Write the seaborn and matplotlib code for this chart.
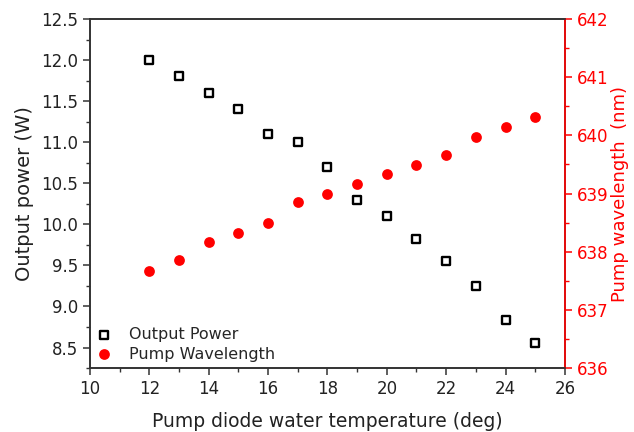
import matplotlib
matplotlib.use("Agg")
import matplotlib.pyplot as plt
import seaborn as sns
import pandas as pd
from matplotlib.ticker import MultipleLocator

sns.set_style("white")
plt.rcParams["font.family"] = ["DejaVu Sans"]

temperature = [12, 13, 14, 15, 16, 17, 18, 19, 20, 21, 22, 23, 24, 25]
output_power = [12.0, 11.8, 11.6, 11.4, 11.1, 11.0, 10.7, 10.3, 10.1, 9.82, 9.55, 9.25, 8.84, 8.55]
pump_wavelength = [637.67, 637.85, 638.17, 638.33, 638.49, 638.85, 639.0, 639.17,
                   639.33, 639.49, 639.66, 639.98, 640.14, 640.32]

df = pd.DataFrame({"temp": temperature, "power": output_power, "wl": pump_wavelength})

red = "#ff0000"
fig = plt.figure(figsize=(6.34, 4.32), dpi=100)
ax = fig.add_axes([0.142, 0.148, 0.749, 0.808])
ax2 = ax.twinx()

sns.scatterplot(data=df, x="temp", y="power", ax=ax, marker="s", s=28,
                facecolor="white", edgecolor="black", linewidth=1.7,
                label="Output Power", zorder=3)
sns.scatterplot(data=df, x="temp", y="wl", ax=ax2, marker="o", s=60,
                color=red, edgecolor=red, linewidth=0, label="Pump Wavelength",
                zorder=3)

ax.set_xlim(10, 26)
ax.set_ylim(8.25, 12.5)
ax2.set_ylim(636, 642)

ax.xaxis.set_major_locator(MultipleLocator(2))
ax.xaxis.set_minor_locator(MultipleLocator(1))
ax.yaxis.set_major_locator(MultipleLocator(0.5))
ax.yaxis.set_minor_locator(MultipleLocator(0.25))
ax2.yaxis.set_major_locator(MultipleLocator(1))
ax2.yaxis.set_minor_locator(MultipleLocator(0.5))

ax.set_xlabel("Pump diode water temperature (deg)", fontsize=13.5, labelpad=10, color="#222222")
ax.set_ylabel("Output power (W)", fontsize=14, labelpad=5, color="#222222")
ax2.set_ylabel("Pump wavelength  (nm)", fontsize=13, labelpad=2, color=red)

for a in (ax, ax2):
    for sp in a.spines.values():
        sp.set_linewidth(1.2)
        sp.set_color("#333333")
ax2.spines["right"].set_color(red)

ax.tick_params(axis="both", which="major", direction="out", length=5, width=1.1,
               labelsize=12, colors="#333333", labelcolor="#222222",
               bottom=True, left=True, top=False, right=False)
ax.tick_params(axis="both", which="minor", direction="out", length=3, width=1.0,
               colors="#333333", bottom=True, left=True, top=False, right=False)
ax2.tick_params(axis="y", which="major", direction="out", length=5, width=1.1,
                labelsize=12, colors=red, right=True)
ax2.tick_params(axis="y", which="minor", direction="out", length=3, width=1.0,
                colors=red, right=True)

h1, l1 = ax.get_legend_handles_labels()
h2, l2 = ax2.get_legend_handles_labels()
if ax2.get_legend() is not None:
    ax2.get_legend().remove()
ax.legend(h1 + h2, l1 + l2, loc="lower left", frameon=False, fontsize=11.5,
          handlelength=0.9, handletextpad=1.15, borderaxespad=0.0,
          labelspacing=0.3)

fig.savefig("out.png", dpi=100)
